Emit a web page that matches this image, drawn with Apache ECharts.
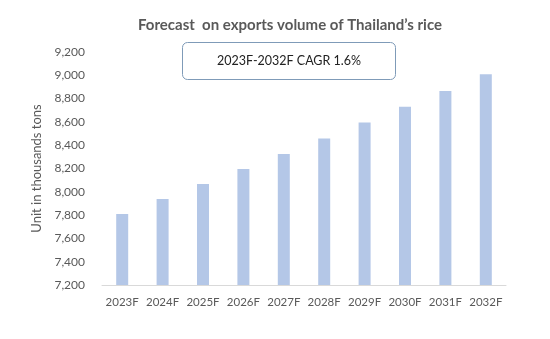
<!DOCTYPE html>
<html>
<head>
<meta charset="utf-8">
<script src="https://cdn.jsdelivr.net/npm/echarts@6/dist/echarts.min.js"></script>
<style>html,body{margin:0;padding:0;background:#fff}#c{width:550px;height:339px}</style>
</head>
<body>
<div id="c"></div>
<script>
const categories = ['2023F','2024F','2025F','2026F','2027F','2028F','2029F','2030F','2031F','2032F'];
const exportsVolume = [7810, 7938, 8067, 8195, 8324, 8457, 8594, 8729, 8866, 9009];
const yTicks = { min: 7200, max: 9200, interval: 200 };
const titleText = 'Forecast  on exports volume of Thailand\u2019s rice';
const boxText = '2023F-2032F CAGR 1.6%';
const yAxisName = 'Unit in thousands tons';

const FONT = 'Lato, "Open Sans", sans-serif';
const chart = echarts.init(document.getElementById('c'), null, {renderer: 'canvas'});
chart.setOption({
  animation: false,
  backgroundColor: '#fff',
  title: {
    text: titleText,
    left: 285, top: 13, textAlign: 'center',
    textStyle: { fontFamily: FONT, fontSize: 15, fontWeight: 'bold', color: '#595959' }
  },
  grid: { left: 102, right: 44, top: 52, bottom: 54, containLabel: false },
  xAxis: {
    type: 'category',
    data: categories,
    axisLine: { lineStyle: { color: '#d9d9d9', width: 1 } },
    axisTick: { show: false },
    axisLabel: { fontFamily: FONT, fontSize: 11.5, color: '#595959', margin: 11, interval: 0 }
  },
  yAxis: {
    type: 'value',
    min: yTicks.min, max: yTicks.max, interval: yTicks.interval,
    name: yAxisName,
    nameLocation: 'middle',
    nameGap: 55,
    nameTextStyle: { fontFamily: FONT, fontSize: 13, color: '#595959' },
    axisLine: { show: false },
    axisTick: { show: false },
    splitLine: { show: false },
    axisLabel: {
      fontFamily: FONT, fontSize: 12, color: '#595959', margin: 17,
      formatter: v => v.toLocaleString('en-US')
    }
  },
  series: [{
    type: 'bar',
    data: exportsVolume,
    barWidth: 12,
    itemStyle: { color: '#b4c7e7' }
  }],
  graphic: [{
    type: 'group',
    left: 182, top: 42,
    children: [{
      type: 'rect',
      shape: { x: 0, y: 0, width: 213, height: 37, r: 5 },
      style: { fill: '#fff', stroke: '#7f9bb8', lineWidth: 1 }
    }, {
      type: 'text',
      x: 106.5, y: 18.5,
      style: { text: boxText, font: '12.5px ' + FONT, fill: '#222', align: 'center', verticalAlign: 'middle' }
    }]
  }]
});
</script>
</body>
</html>
